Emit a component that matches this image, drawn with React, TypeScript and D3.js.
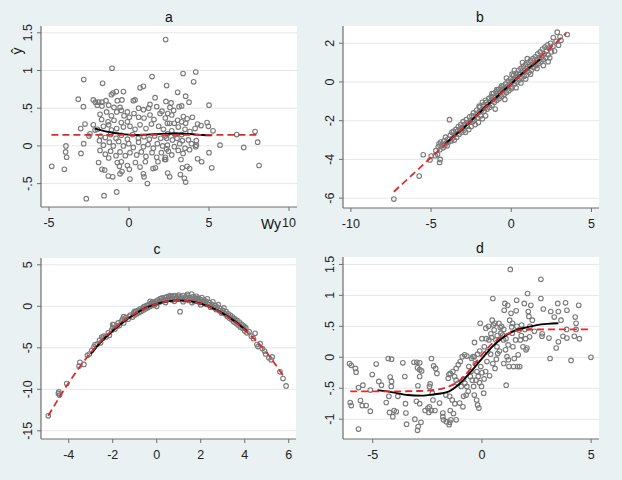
import React from "react";
import * as d3 from "d3";

type Pt = [number, number];

// ---- panel a: ŷ against Wy ----
const pointsA: Pt[] = [
  [2.29,1.41],[-1.06,1.03],[1.44,0.92],[-2.83,0.88],[-1.65,0.83],[2.35,0.80],[0.9,0.79],[0.69,0.77],[-0.35,0.72],[-0.79,0.72],[-1.0,0.70],[-1.1,0.68],[1.63,0.64],[-3.17,0.62],
  [-2.23,0.61],[-2.1,0.58],[-1.9,0.58],[-1.69,0.58],[-1.44,0.6],[-0.73,0.6],[-0.44,0.61],[0.27,0.6],[0.38,0.61],[1.31,0.55],[2.31,0.59],
  [-2.85,0.52],[-1.98,0.54],[-1.69,0.53],[-1.27,0.54],[-0.94,0.51],[-0.56,0.51],[-0.48,0.47],[-0.1,0.45],[0.6,0.5],[0.9,0.48],[1.23,0.5],[1.73,0.52],[2.06,0.46],
  [-1.81,0.42],[-1.4,0.45],[-1.1,0.40],[-0.77,0.45],[-0.31,0.40],[0.02,0.38],[0.31,0.43],[0.6,0.38],[0.94,0.37],[1.31,0.41],[1.56,0.35],[1.94,0.43],[2.27,0.37],[-1.71,0.35],[-1.31,0.32],[-0.94,0.34],[-0.48,0.31],[-0.1,0.32],
  [-2.75,0.29],[-3.02,0.23],[-2.23,0.28],[-1.98,0.22],[-1.6,0.26],[-1.27,0.28],[-1.1,0.21],[-0.77,0.23],[-0.35,0.25],[0.06,0.26],[0.38,0.22],[0.69,0.28],[1.06,0.23],[1.4,0.29],[1.85,0.26],[2.15,0.22],[2.4,0.3],
  [-2.44,0.16],[-2.12,0.21],[-1.77,0.13],[-1.48,0.11],[-1.15,0.15],[-0.81,0.10],[-0.48,0.14],[-0.1,0.09],[0.23,0.15],[0.58,0.10],[0.94,0.12],[1.27,0.09],[1.6,0.13],[1.98,0.1],[2.27,0.13],[-2.5,0.13],
  [-2.83,0.03],[-1.85,0.07],[-1.6,0.01],[-1.23,0.05],[-0.98,0.0],[-0.65,0.06],[-0.35,0.0],[-0.02,0.03],[0.27,-0.02],[0.6,0.05],[0.9,-0.01],[1.19,0.02],[1.52,-0.03],[1.77,0.03],[2.1,0.0],[2.35,-0.04],
  [-3.94,0.0],[-3.96,-0.08],[-3.9,-0.15],[-3.0,-0.10],[-1.81,-0.06],[-1.48,-0.11],[-1.15,-0.07],[-0.81,-0.13],[-0.56,-0.08],[-0.23,-0.13],[0.06,-0.09],[0.48,-0.12],[0.77,-0.08],[1.06,-0.14],[1.44,-0.09],[1.73,-0.15],[2.02,-0.09],[2.27,-0.15],
  [-4.83,-0.27],[-4.04,-0.31],[-1.9,-0.22],[-1.27,-0.16],[-1.69,-0.31],[-1.52,-0.32],[-0.73,-0.22],[-0.48,-0.21],[-0.6,-0.27],[-0.1,-0.26],[0.02,-0.31],[0.4,-0.22],[0.69,-0.28],[1.02,-0.21],[1.65,-0.29],[1.81,-0.21],[2.23,-0.18],
  [-1.29,-0.40],[-1.02,-0.41],[-0.56,-0.37],[-0.44,-0.34],[0.06,-0.44],[0.9,-0.37],[0.94,-0.41],[1.15,-0.5],[1.5,-0.30],
  [-2.67,-0.70],[-1.56,-0.66],[-0.77,-0.61],
  [4.17,0.98],[3.38,0.96],[4.04,0.85],[3.04,0.71],[3.54,0.66],[3.75,0.58],[5.0,0.54],
  [2.63,0.57],[2.56,0.51],[2.79,0.47],[3.13,0.52],[3.29,0.53],[2.42,0.43],[2.67,0.41],
  [3.4,0.39],[3.63,0.36],[3.96,0.38],[3.04,0.34],[3.29,0.32],[3.54,0.30],[2.83,0.30],[2.54,0.30],
  [4.29,0.29],[4.5,0.27],[4.88,0.31],[4.96,0.26],[5.25,0.2],
  [3.08,0.25],[3.5,0.22],[3.81,0.19],[4.13,0.23],[2.67,0.2],[2.42,0.16],[2.88,0.15],[3.29,0.15],
  [6.73,0.15],[7.88,0.19],[8.04,0.05],[7.17,-0.02],[5.69,0.01],
  [2.35,0.1],[2.71,0.08],[3.0,0.1],[3.33,0.07],[3.71,0.08],[4.21,0.07],[4.21,0.01],
  [2.4,0.01],[2.83,-0.01],[3.17,0.03],[3.5,-0.03],[3.9,0.03],[2.46,-0.07],[3.08,-0.06],[3.38,-0.1],[3.79,-0.05],[4.17,-0.01],[2.67,-0.12],
  [5.0,-0.09],[4.29,-0.17],[4.54,-0.21],[5.17,-0.29],[8.13,-0.26],
  [3.25,-0.18],[3.63,-0.27],[3.79,-0.30],[3.33,-0.29],[2.42,-0.36],[2.54,-0.41],[3.21,-0.38],[3.46,-0.43],[3.54,-0.48],[2.29,-0.18],
];
const fitA: Pt[] = [[-4.85,0.146],[8.15,0.146]];
const smoothA: Pt[] = [[-2.13,0.23],[-1.6,0.2],[-1.0,0.175],[-0.5,0.16],[0,0.15],[0.5,0.145],[1.0,0.15],[2.0,0.16],[3.0,0.165],[4.0,0.155],[4.6,0.145],[5.17,0.14]];
const xTicksA = [-5, 0, 5, 10];
const xLabelsA = ["-5", "0", "5", "10"];
const yTicksA = [-0.5, 0, 0.5, 1, 1.5];
const yLabelsA = ["-.5", "0", ".5", "1", "1.5"];

// ---- panel b ----
const pointsB: Pt[] = [
  [-7.32,-6.05],[-5.74,-4.86],[-5.49,-3.76],[-5.07,-4.03],[-4.99,-3.83],[-4.74,-3.81],[-4.47,-4.16],[-4.43,-4.0],[-4.6,-3.74],[-4.7,-3.55],
  [-4.55,-3.35],[-4.5,-3.2],[-4.45,-3.5],[-4.4,-3.1],[-4.3,-3.25],[-4.25,-3.4],[-4.2,-3.05],[-4.15,-3.3],[-4.1,-2.85],[-4.05,-3.15],[-4.0,-3.3],[-3.95,-2.95],[-3.9,-3.1],[-3.85,-1.95],[-3.8,-2.75],[-3.75,-3.05],[-3.7,-2.6],[-3.65,-2.9],[-3.6,-2.55],[-3.55,-3.0],[-3.5,-2.7],[-3.45,-2.45],[-3.4,-2.85],
  [-3.35,-2.55],[-3.3,-2.3],[-3.25,-2.7],[-3.2,-2.45],[-3.15,-2.2],[-3.1,-2.6],[-3.05,-2.35],[-3.0,-2.05],[-2.95,-2.5],[-2.9,-2.2],[-2.85,-2.6],[-2.8,-1.95],[-2.75,-2.3],[-2.7,-2.1],[-2.65,-2.45],[-2.6,-1.8],[-2.55,-2.0],[-2.5,-2.3],[-2.45,-1.75],[-2.4,-2.05],[-2.35,-1.6],[-2.3,-1.95],[-2.25,-2.2],[-2.2,-1.7],[-2.15,-1.45],[-2.1,-1.85],[-2.05,-2.1],[-2.0,-1.55],[-1.95,-1.3],[-1.9,-1.75],[-1.85,-1.45],[-1.8,-1.9],[-1.75,-1.2],[-1.7,-1.5],[-1.65,-1.35],[-1.6,-1.75],[-1.55,-1.05],[-1.5,-1.4],
  [-1.45,-1.15],[-1.4,-0.85],[-1.35,-1.3],[-1.3,-1.0],[-1.25,-0.75],[-1.2,-1.2],[-1.15,-0.9],[-1.1,-0.6],[-1.05,-1.05],[-1.0,-0.8],[-0.95,-0.5],[-0.9,-0.95],[-0.85,-0.7],[-0.8,-0.4],[-0.75,-0.85],[-0.7,-0.55],[-0.65,-0.3],[-0.6,-0.75],[-0.55,-0.45],[-0.5,-0.2],[-0.45,-0.65],[-0.4,-0.35],[-0.35,-0.1],[-0.3,-0.55],[-0.25,-0.25],[-0.2,0.05],[-0.15,-0.45],[-0.1,-0.15],[-0.05,0.15],[0.0,-0.35],[0.0,0.0],[-0.6,-0.2],[-0.9,-0.4],[-1.2,-0.6],[-1.6,-0.95],[-2.0,-1.25],[-0.3,0.2],[0.05,0.4],[-0.4,-0.9],[-1.0,-1.4],[-1.8,-1.05],
  [0.05,-0.25],[0.1,0.1],[0.15,0.35],[0.2,-0.1],[0.25,0.2],[0.3,0.45],[0.35,0.0],[0.4,0.3],[0.45,0.6],[0.5,0.1],[0.55,0.4],[0.6,0.7],[0.65,0.2],[0.7,0.5],[0.75,0.8],[0.8,0.3],[0.85,0.6],[0.9,0.9],[0.95,0.35],[1.0,0.7],[1.05,1.0],[1.1,0.5],[1.15,0.8],[1.2,1.1],[1.25,0.6],[1.3,0.9],[1.35,1.2],[1.4,0.75],[1.45,1.0],[1.5,1.3],[0.3,-0.3],[0.6,-0.05],[0.9,0.15],[1.2,0.4],[0.2,0.6],[0.7,1.0],[1.0,1.2],
  [1.55,0.85],[1.6,1.15],[1.65,1.45],[1.7,0.95],[1.75,1.25],[1.8,1.55],[1.85,1.05],[1.9,1.35],[1.95,1.7],[2.0,1.15],[2.05,1.45],[2.1,1.8],[2.15,1.25],[2.2,1.6],[2.25,1.9],[2.3,1.4],[2.35,1.75],[2.4,1.25],[2.45,2.0],[2.5,1.55],[2.6,1.85],[2.62,2.29],[2.7,1.6],[2.8,2.1],[2.87,2.57],[2.95,1.9],[3.04,2.33],[3.1,2.15],[3.49,2.45],[2.0,0.85],[1.6,0.7],[2.3,1.05],
];
const fitB: Pt[] = [[-7.32,-5.67],[3.43,2.52]];
const smoothB: Pt[] = [[-4.12,-3.2],[-3.5,-2.75],[-3,-2.4],[-2.5,-2.0],[-2,-1.6],[-1.5,-1.2],[-1,-0.85],[-0.5,-0.45],[0,-0.1],[0.5,0.3],[1,0.65],[1.5,0.98],[1.81,1.17]];
const xTicksB = [-10, -5, 0, 5];
const xLabelsB = ["-10", "-5", "0", "5"];
const yTicksB = [-6, -4, -2, 0, 2];
const yLabelsB = ["-6", "-4", "-2", "0", "2"];

// ---- panel c ----
const pointsC: Pt[] = [
  [-4.93,-13.2],[-4.47,-10.5],[-4.45,-10.3],[-4.42,-10.7],[-4.09,-9.3],[-3.49,-6.75],[-3.53,-7.2],[-3.31,-7.0],[-3.15,-5.9],
  [-3.06,-5.75],[-2.95,-5.3],[-2.85,-4.9],[-2.8,-4.6],[-2.7,-4.55],[-2.6,-4.1],[-2.55,-4.4],[-2.45,-3.85],[-2.4,-3.6],[-2.3,-3.7],[-2.2,-3.2],[-2.15,-3.5],[-2.05,-2.9],[-2.0,-2.55],[-1.95,-2.2],[-1.9,-2.75],[-1.8,-2.4],[-1.75,-2.0],[-1.7,-2.3],[-1.6,-1.8],[-1.55,-1.55],[-1.5,-2.0],[-1.45,-1.6],[-1.4,-1.35],[-1.3,-1.55],[-1.25,-1.2],[-1.2,-1.05],[-1.1,-1.3],[-1.05,-0.8],[-1.0,-1.05],[-0.95,-0.65],[-0.9,-0.9],[-0.85,-0.5],[-0.8,-0.75],[-0.75,-0.3],[-0.7,-0.6],[-0.65,-0.25],[-0.6,-0.45],[-0.55,0.0],[-0.5,-0.3],[-0.45,0.1],[-0.4,-0.15],[-0.35,0.25],[-0.3,0.0],[-0.25,0.35],[-0.2,0.1],[-0.15,0.45],[-0.1,0.2],[-0.05,0.6],[0.0,0.35],
  [0.05,0.75],[0.1,0.5],[0.15,0.9],[0.2,0.6],[0.25,1.0],[0.3,0.7],[0.35,1.05],[0.4,0.8],[0.45,1.15],[0.5,0.85],[0.55,1.2],[0.6,0.9],[0.65,1.1],[0.7,0.75],[0.75,1.25],[0.8,0.95],[0.85,1.3],[0.9,1.0],[0.95,1.2],[1.0,0.85],[1.06,-0.65],[1.1,1.15],[1.15,0.9],[1.2,1.3],[1.25,0.8],[1.3,1.1],[1.35,0.95],[1.4,1.25],[1.45,0.7],[1.5,1.05],[1.59,1.48],[1.6,0.85],[1.65,1.15],[1.7,0.6],[1.75,0.95],[1.8,1.2],[1.85,0.7],[1.9,1.0],[1.95,0.45],[2.0,0.8],
  [2.05,1.05],[2.1,0.5],[2.15,0.75],[2.2,0.3],[2.25,0.6],[2.3,0.9],[2.35,0.2],[2.4,0.45],[2.45,-0.1],[2.5,0.25],[2.55,0.55],[2.6,-0.15],[2.65,0.1],[2.7,-0.4],[2.75,-0.1],[2.8,0.2],[2.85,-0.55],[2.9,-0.3],[2.95,-0.8],[3.0,-0.5],[3.05,-0.2],[3.1,-0.9],[3.15,-0.65],[3.2,-1.2],[3.25,-0.9],[3.3,-1.4],[3.35,-1.1],[3.4,-1.6],[3.45,-1.3],[3.5,-1.85],[3.55,-1.5],[3.6,-2.0],[3.65,-1.7],[3.7,-2.25],[3.75,-1.9],[3.8,-2.5],[3.85,-2.15],[3.9,-2.65],[3.95,-2.35],[4.0,-2.95],[4.05,-2.6],[4.1,-3.2],[4.2,-3.05],[4.3,-3.6],[4.4,-3.9],[4.47,-3.25],[4.55,-4.6],[4.6,-4.85],[4.7,-4.5],[4.8,-5.1],[4.9,-5.4],[4.95,-5.75],[5.1,-6.2],[5.2,-6.45],[5.25,-6.1],[5.6,-7.9],[5.74,-8.7],[5.88,-9.6],
  [-0.2,0.5],[0.2,0.95],[0.6,1.3],[1.0,1.35],[1.4,1.45],[1.8,0.95],[0.0,0.0],[0.4,0.45],[0.8,0.6],[1.2,0.55],[1.6,0.45],[2.0,0.2],[-0.6,-0.1],[-1.0,-0.6],[-1.5,-1.25],[-2.0,-2.2],[-2.5,-3.7],[3.0,-0.75],[3.5,-1.5],[4.0,-2.5],[2.5,0.0],[-0.3,0.6],
];
const fitC: Pt[] = [[-4.93,-13.2],[-4,-9.2],[-3,-5.6],[-2,-2.85],[-1,-0.9],[0,0.3],[1,0.7],[2,0.3],[3,-0.9],[4,-2.85],[5,-5.6],[5.78,-8.5]];
const smoothC: Pt[] = [[-3.0,-5.75],[-2.5,-4.2],[-2,-2.95],[-1.5,-1.85],[-1,-0.95],[-0.5,-0.2],[0,0.3],[0.5,0.6],[1,0.72],[1.5,0.62],[2,0.32],[2.5,-0.15],[3,-0.85],[3.5,-1.72],[4.1,-3.0]];
const xTicksC = [-4, -2, 0, 2, 4, 6];
const xLabelsC = ["-4", "-2", "0", "2", "4", "6"];
const yTicksC = [-15, -10, -5, 0, 5];
const yLabelsC = ["-15", "-10", "-5", "0", "5"];

// ---- panel d ----
const pointsD: Pt[] = [
  [-6.06,-0.1],[-5.98,-0.13],[-5.79,-0.18],[-5.76,-0.24],[-4.84,-0.11],[-5.02,-0.28],[-5.45,-0.45],[-5.65,-0.49],[-4.72,-0.39],[-4.6,-0.45],[-6.03,-0.73],[-5.98,-0.78],[-5.56,-0.70],[-5.48,-0.78],[-5.3,-0.78],[-5.11,-0.87],[-5.65,-1.16],[-5.11,-0.53],
  [-4.38,-0.73],[-4.26,-0.63],[-4.29,-0.02],[-4.14,-0.03],[-4.2,-0.32],[-4.15,-0.47],[-4.23,-0.89],[-4.08,-0.96],[-3.92,-0.88],[-4.02,-0.86],[-3.85,-0.63],[-4.14,-0.39],
  [-3.62,-0.09],[-3.53,-0.31],[-3.5,-0.75],[-3.48,-0.9],[-3.45,-1.08],[-3.11,-0.08],[-2.98,-0.08],[-2.85,-0.09],[-2.95,-0.17],[-2.85,-0.2],[-2.76,-0.22],[-2.85,-0.31],[-2.93,-0.46],[-3.0,-0.71],[-2.85,-0.75],[-3.07,-1.0],[-2.92,-1.12],[-2.95,-1.18],[-2.79,-1.05],[-2.6,-0.86],[-2.47,-0.82],
  [-2.31,-0.02],[-2.21,-0.14],[-2.12,-0.18],[-2.06,-0.26],[-2.37,-0.43],[-2.4,-0.47],[-2.27,-0.58],[-2.24,-0.69],[-2.4,-0.8],[-2.31,-0.86],[-2.43,-0.89],[-2.15,-0.86],[-1.94,-0.74],[-1.79,-0.9],[-1.76,-1.01],[-1.63,-1.04],[-1.5,-1.09],[-1.42,-1.01],
  [-1.51,-0.28],[-1.54,-0.34],[-1.45,-0.26],[-1.33,-0.23],[-1.25,-0.31],[-1.18,-0.18],[-1.08,-0.12],[-0.99,-0.07],[-0.9,0.01],[-0.79,0.04],[-0.69,0.02],[-1.18,-0.37],[-1.1,-0.42],[-0.95,-0.47],[-0.84,-0.35],[-0.78,-0.42],[-0.69,-0.47],[-0.63,-0.55],[-1.48,-0.63],[-1.36,-0.69],[-1.24,-0.75],[-1.02,-0.74],[-0.87,-0.8],[-1.45,-0.86],[-1.3,-0.91],[-1.18,-1.01],[-1.48,-1.05],[-1.79,-0.96],[-0.6,-0.15],[-0.5,-0.23],[-0.53,-0.31],[-0.44,-0.37],[-1.65,-0.61],[-0.84,-0.63],[-0.72,-0.61],
  [-0.47,-0.02],[-0.41,0.01],[-0.35,0.01],[-0.34,0.24],[-0.38,-0.47],[-0.35,-0.61],[-0.27,-0.37],[-0.24,-0.69],[-0.2,-0.77],[-0.14,-0.82],[-0.23,-0.23],[-0.17,-0.31],[-0.11,-0.41],[-0.08,0.55],[-0.05,-0.15],[-0.02,-0.47],[0.08,-0.58],[0.11,0.17],[0.17,-0.23],
  [0.18,0.47],[0.23,-0.07],[0.26,0.09],[0.32,0.28],[0.35,-0.3],[0.41,0.38],[0.44,0.32],[0.5,0.95],[0.47,0.6],[0.53,0.52],[0.56,0.44],[0.6,-0.18],[0.64,0.28],[0.69,0.17],[0.72,0.06],[0.66,-0.03],[0.78,0.55],[0.84,0.48],[0.87,0.39],[0.95,0.36],[0.99,0.28],[1.02,0.76],[1.05,0.87],[1.08,0.12],[1.11,-0.45],[1.15,0.01],[1.18,0.84],[1.21,-0.04],[1.24,-0.15],[1.27,0.6],[1.3,1.42],[1.33,0.71],[1.36,0.49],[1.39,0.39],[1.42,0.17],[1.45,-0.15],[1.48,-0.02],[1.54,0.28],[1.57,0.75],[1.59,0.92],[1.63,-0.15],[1.66,0.04],[1.7,0.44],[1.73,-0.15],[1.76,0.28],[1.82,0.52],[1.88,0.17],[1.94,0.87],[1.97,0.45],[2.02,0.12],[2.06,0.15],[2.09,1.03],[2.12,0.74],[2.15,0.66],[2.18,0.33],[2.24,0.84],[2.31,0.6],
  [2.7,1.26],[2.7,0.95],[2.76,0.38],[2.81,0.78],[2.75,0.34],[3.07,0.31],[3.12,-0.02],[3.15,0.74],[3.31,0.65],[3.47,0.87],[3.5,0.74],[3.4,0.15],[3.5,0.25],[3.62,0.6],[3.71,0.34],[3.83,0.88],[3.89,0.76],[3.88,0.45],[3.89,0.31],[4.08,-0.05],[4.23,0.34],[4.27,0.65],[4.31,0.55],[4.31,0.45],[4.46,0.3],[4.43,0.84],[4.99,0.0],
  [0.3,0.5],[0.6,0.55],[0.9,0.5],[1.0,0.45],[1.1,0.3],[1.2,0.2],[0.8,0.1],[0.4,0.05],[0.2,0.3],[0.7,0.35],[1.6,0.5],[1.8,0.35],[2.0,0.3],[2.2,0.5],[2.4,0.42],[1.4,0.55],[1.0,-0.1],[0.5,-0.1],[0.0,0.3],[-0.1,0.1],[0.0,-0.25],[0.1,-0.35],[-0.3,-0.1],[-0.2,0.05],
];
const fitD: Pt[] = [[-6.03,-0.55],[-4,-0.55],[-3,-0.545],[-2,-0.52],[-1.5,-0.47],[-1,-0.37],[-0.5,-0.18],[0,0.04],[0.5,0.23],[1,0.35],[1.5,0.42],[2,0.445],[3,0.45],[4.99,0.45]];
const smoothD: Pt[] = [[-4.78,-0.53],[-4,-0.57],[-3.4,-0.61],[-2.8,-0.62],[-2.2,-0.6],[-1.5,-0.55],[-1,-0.42],[-0.5,-0.23],[0,-0.02],[0.5,0.18],[1,0.33],[1.5,0.43],[2,0.48],[2.5,0.52],[3,0.54],[3.5,0.55]];
const xTicksD = [-5, 0, 5];
const xLabelsD = ["-5", "0", "5"];
const yTicksD = [-1, -0.5, 0, 0.5, 1, 1.5];
const yLabelsD = ["-1", "-.5", "0", ".5", "1", "1.5"];

// ---- styling / layout ----
const W = 622;
const H = 480;
const FONT = "'Liberation Sans', Arial, Helvetica, sans-serif";
const BG = "#e9f1f3";
const GRID = "#e3e8eb";
const AXIS = "#6e6e6e";
const MARK = "#7a7a7a";
const RED = "#dd2a2a";
const TICK_FS = 12.5;

type Box = { l: number; r: number; t: number; b: number };
type PanelSpec = {
  title: string;
  titleX: number;
  titleY: number;
  box: Box;
  xDom: [number, number];
  yDom: [number, number];
  xTicks: number[];
  xLabels: string[];
  yTicks: number[];
  yLabels: string[];
  points: Pt[];
  fit: Pt[];
  smooth: Pt[];
};

const panels: PanelSpec[] = [
  { title: "a", titleX: 169, titleY: 22, box: { l: 41, r: 297, t: 26, b: 207 }, xDom: [-5.5, 10.5], yDom: [-0.81, 1.59],
    xTicks: xTicksA, xLabels: xLabelsA, yTicks: yTicksA, yLabels: yLabelsA, points: pointsA, fit: fitA, smooth: smoothA },
  { title: "b", titleX: 480, titleY: 22, box: { l: 343, r: 599, t: 26, b: 208 }, xDom: [-10.49, 5.47], yDom: [-6.51, 2.89],
    xTicks: xTicksB, xLabels: xLabelsB, yTicks: yTicksB, yLabels: yLabelsB, points: pointsB, fit: fitB, smooth: smoothB },
  { title: "c", titleX: 157, titleY: 254, box: { l: 41, r: 296, t: 258, b: 439 }, xDom: [-5.26, 6.33], yDom: [-15.99, 5.82],
    xTicks: xTicksC, xLabels: xLabelsC, yTicks: yTicksC, yLabels: yLabelsC, points: pointsC, fit: fitC, smooth: smoothC },
  { title: "d", titleX: 480, titleY: 253, box: { l: 343, r: 599, t: 257, b: 439 }, xDom: [-6.36, 5.36], yDom: [-1.32, 1.62],
    xTicks: xTicksD, xLabels: xLabelsD, yTicks: yTicksD, yLabels: yLabelsD, points: pointsD, fit: fitD, smooth: smoothD },
];

function Panel({ spec }: { spec: PanelSpec }) {
  const { l, r, t, b } = spec.box;
  const x = d3.scaleLinear().domain(spec.xDom).range([l, r]);
  const y = d3.scaleLinear().domain(spec.yDom).range([b, t]);
  const path = d3
    .line<Pt>()
    .x((d) => x(d[0]))
    .y((d) => y(d[1]))
    .curve(d3.curveMonotoneX);

  return (
    <g>
      <rect x={l} y={t} width={r - l} height={b - t} fill="#ffffff" />
      {spec.yTicks.map((v) => (
        <line key={"g" + v} x1={l} x2={r} y1={y(v)} y2={y(v)} stroke={GRID} strokeWidth={1} />
      ))}
      <g fill="none" stroke={MARK} strokeWidth={1.1}>
        {spec.points.map((p, i) => (
          <circle key={i} cx={x(p[0])} cy={y(p[1])} r={2.3} />
        ))}
      </g>
      <path d={path(spec.smooth) ?? ""} fill="none" stroke="#000000" strokeWidth={1.9} />
      <path d={path(spec.fit) ?? ""} fill="none" stroke={RED} strokeWidth={1.8} strokeDasharray="7,4" />
      {/* axes */}
      <line x1={l} x2={l} y1={t} y2={b} stroke={AXIS} strokeWidth={1.2} />
      <line x1={l} x2={r} y1={b} y2={b} stroke={AXIS} strokeWidth={1.2} />
      {spec.yTicks.map((v, i) => (
        <g key={"y" + v}>
          <line x1={l - 4} x2={l} y1={y(v)} y2={y(v)} stroke={AXIS} strokeWidth={1} />
          <text
            transform={`translate(${l - 9},${y(v)}) rotate(-90)`}
            textAnchor="middle"
            fontSize={TICK_FS}
            fontFamily={FONT}
            fill="#222"
          >
            {spec.yLabels[i]}
          </text>
        </g>
      ))}
      {spec.xTicks.map((v, i) => (
        <g key={"x" + v}>
          <line x1={x(v)} x2={x(v)} y1={b} y2={b + 4} stroke={AXIS} strokeWidth={1} />
          <text x={x(v)} y={b + 19.5} textAnchor="middle" fontSize={TICK_FS} fontFamily={FONT} fill="#222">
            {spec.xLabels[i]}
          </text>
        </g>
      ))}
      <text x={spec.titleX} y={spec.titleY} textAnchor="middle" fontSize={14} fontFamily={FONT} fill="#111">
        {spec.title}
      </text>
    </g>
  );
}

export default function App() {
  return (
    <div style={{ position: "fixed", left: 0, top: 0, width: W, height: H }}>
      <svg width={W} height={H} viewBox={`0 0 ${W} ${H}`} style={{ display: "block" }}>
        <rect x={0} y={0} width={W} height={H} fill={BG} />
        {panels.map((p) => (
          <Panel key={p.title} spec={p} />
        ))}
        <text transform="translate(22,51) rotate(-90)" textAnchor="middle" fontSize={14} fontFamily={FONT} fill="#111">
          ŷ
        </text>
        <text x={281} y={228.5} textAnchor="end" fontSize={14} fontFamily={FONT} fill="#111">
          Wy
        </text>
      </svg>
    </div>
  );
}
